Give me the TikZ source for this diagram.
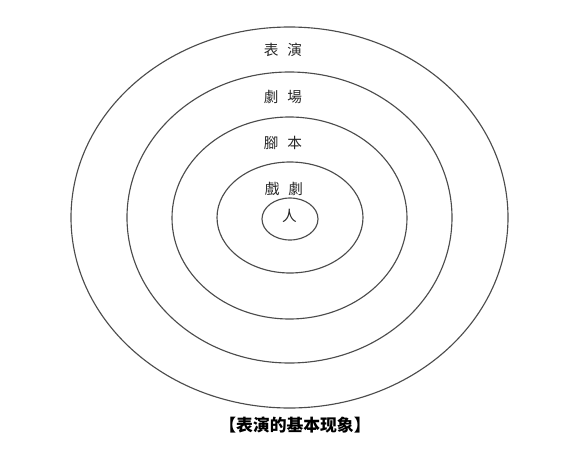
\documentclass[tikz,border=0pt]{standalone}
\usepackage{fontspec}
\newfontfamily\cjk{Noto Sans CJK SC}
\tikzset{ring/.style={draw=black!70, line width=0.85pt},
  lbl/.style={inner sep=0.75pt, font=\cjk\fontsize{11}{13}\selectfont, text=black!85}}

\begin{document}
\begin{tikzpicture}[x=0.75pt,y=0.75pt,yscale=-1,xscale=1]
                                    \useasboundingbox (0,0) rectangle (572,468);
                                    \draw [ring] (289.5,217.5) ellipse (218.5 and 190.5);
                                    \draw [ring] (289.5,217.5) ellipse (162.5 and 145.5);
                                    \draw [ring] (289.5,218) ellipse (117.5 and 101);
                                    \draw [ring] (290,217.5) ellipse (73 and 55.5);
                                    \draw [ring] (290,219) ellipse (28 and 21);
                                    \draw (283,50) node [lbl] (perf) {表\hspace{0.6em}演};
                                    \draw (283,97) node [lbl] (theatre) {劇\hspace{0.6em}場};
                                    \draw (283,143) node [lbl] (script) {腳\hspace{0.6em}本};
                                    \draw (284,189) node [lbl] (drama) {戲\hspace{0.6em}劇};
                                    \draw (289.5,216) node [lbl] (actor) {人};
                                    \draw (295,425) node [inner sep=0.75pt, font=\cjk\bfseries\fontsize{12.6}{14}\selectfont] (caption) {【表演的基本现象】};
                                \end{tikzpicture}
\end{document}
